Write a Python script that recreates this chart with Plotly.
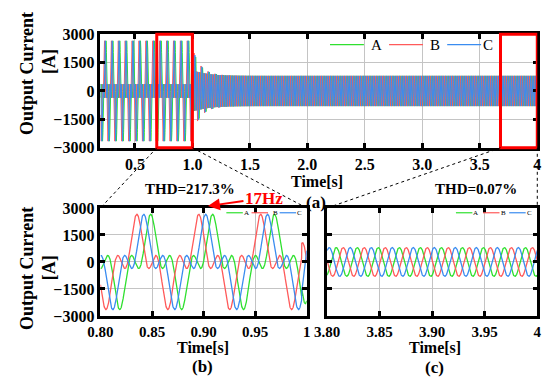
import numpy as np
import plotly.graph_objects as go

# ---------------- values ----------------
phase_names = ["A", "B", "C"]
low_freq_hz = 50.0 / 3.0            # the "17Hz" oscillation before switching
grid_freq_hz = 50.0
low_amp_a = 1600.0                  # 17 Hz part amplitude before switching [A]
grid_amp_before_a = 1050.0          # 50 Hz part amplitude before switching [A]
grid_amp_after_a = 800.0            # steady 50 Hz amplitude after switching [A]
phase_peak_time_s = [0.8487, 0.8353, 0.8420]   # peaks of A, B, C seen in (b)
switch_time_s = 0.995
low_residual_a = 900.0
low_decay_s = 0.06
grid_overshoot_a = 700.0
grid_decay_s = 0.09

time_range_a = [0.2, 4.0]
time_range_b = [0.80, 1.0]
time_range_c = [3.80, 4.0]
box_range_b = [0.69, 1.0]
box_range_c = [3.68, 4.0]
current_range = [-3000, 3000]

x_ticks_a = [0.5, 1.0, 1.5, 2.0, 2.5, 3.0, 3.5, 4.0]
x_tick_text_a = ["0.5", "1.0", "1.5", "2.0", "2.5", "3.0", "3.5", "4"]
x_ticks_b = [0.80, 0.85, 0.90, 0.95, 1.0]
x_tick_text_b = ["0.80", "0.85", "0.90", "0.95", "1"]
x_ticks_c = [3.80, 3.85, 3.90, 3.95, 4.0]
x_tick_text_c = ["3.80", "3.85", "3.90", "3.95", "4"]
y_ticks = [-3000, -1500, 0, 1500, 3000]
y_tick_text = ["\u22123000", "\u22121500", "0", "1500", "3000"]
thd_text = ["THD=217.3%", "THD=0.07%"]
freq_label = "17Hz"
x_title = "Time[s]"
y_title = ["Output Current", "[A]"]
panel_labels = ["(a)", "(b)", "(c)"]

# ---------------- styles ----------------
colors = ["#2fe02f", "#ff5a5a", "#3a8cf0"]
FONT = "Liberation Serif"
PAGE_MARGIN = 8                     # browser default body margin
W, H = 550 - PAGE_MARGIN, 387 - PAGE_MARGIN


def phase_current(t, k):
    s = phase_peak_time_s[k]
    after = t >= switch_time_s
    d = np.clip(t - switch_time_s, 0, None)
    low_env = np.where(after, low_residual_a * np.exp(-d / low_decay_s), low_amp_a)
    grid_env = np.where(after, grid_amp_after_a + grid_overshoot_a * np.exp(-d / grid_decay_s),
                        grid_amp_before_a)
    return (low_env * np.cos(2 * np.pi * low_freq_hz * (t - s))
            + grid_env * np.cos(2 * np.pi * grid_freq_hz * (t - s)))


t_a = np.arange(time_range_a[0], time_range_a[1] + 1e-9, 0.0005)
t_b = np.arange(time_range_b[0], time_range_b[1] + 1e-9, 0.0002)
t_c = np.arange(time_range_c[0], time_range_c[1] + 1e-9, 0.0002)

fig = go.Figure()
for tt, xa, ya, lw in [(t_a, "x", "y", 1.0), (t_b, "x2", "y2", 1.3), (t_c, "x3", "y3", 1.3)]:
    for k, name in enumerate(phase_names):
        fig.add_trace(go.Scatter(x=tt, y=phase_current(tt, k), mode="lines", name=name,
                                 xaxis=xa, yaxis=ya, showlegend=False,
                                 line=dict(color=colors[k], width=lw)))


def px(x):
    return (x - PAGE_MARGIN) / W


def py(y):
    return 1 - (y - PAGE_MARGIN) / H


dom_a_x = [px(90), px(541)]
dom_a_y = [py(146), py(27)]
dom_b_x = [px(90), px(303)]
dom_c_x = [px(324), px(541)]
dom_bc_y = [py(322), py(209)]

axis_common = dict(showline=True, linecolor="black", linewidth=2.5, mirror="ticks",
                   ticks="inside", ticklen=5, tickwidth=2.5, tickcolor="black",
                   showgrid=True, gridcolor="#c4c4c4", gridwidth=1, zeroline=False,
                   tickfont=dict(family=FONT, size=16, color="black", weight="bold"))
small_tick_font = dict(tickfont=dict(family=FONT, size=15, color="black", weight="bold"))
axis_bottom = {**axis_common, **small_tick_font}

fig.update_layout(
    width=W, height=H, margin=dict(l=0, r=0, t=0, b=0),
    paper_bgcolor="white", plot_bgcolor="white",
    font=dict(family=FONT, color="black"),
    xaxis=dict(domain=dom_a_x, anchor="y", range=time_range_a, tickvals=x_ticks_a,
               ticktext=x_tick_text_a, **axis_common),
    yaxis=dict(domain=dom_a_y, anchor="x", range=current_range, tickvals=y_ticks,
               ticktext=y_tick_text, **axis_common),
    xaxis2=dict(domain=dom_b_x, anchor="y2", range=time_range_b, tickvals=x_ticks_b,
                ticktext=x_tick_text_b, **axis_bottom),
    yaxis2=dict(domain=dom_bc_y, anchor="x2", range=current_range, tickvals=y_ticks,
                ticktext=y_tick_text, **axis_common),
    xaxis3=dict(domain=dom_c_x, anchor="y3", range=time_range_c, tickvals=x_ticks_c,
                ticktext=x_tick_text_c, **axis_bottom),
    yaxis3=dict(domain=dom_bc_y, anchor="x3", range=current_range, tickvals=y_ticks,
                showticklabels=False, **axis_common),
)


def xa_paper(x):
    return dom_a_x[0] + (x - time_range_a[0]) / (time_range_a[1] - time_range_a[0]) * (dom_a_x[1] - dom_a_x[0])


shapes = []
# red zoom boxes on (a)
for rng in (box_range_b, box_range_c):
    shapes.append(dict(type="rect", xref="x", yref="y domain", x0=rng[0], x1=rng[1], y0=0, y1=1,
                       line=dict(color="#ff0000", width=3), layer="above"))
# dotted connectors
dot = dict(color="black", width=1, dash="dot")
shapes += [
    dict(type="line", xref="paper", yref="paper", x0=xa_paper(box_range_b[0]), y0=dom_a_y[0],
         x1=dom_b_x[0], y1=dom_bc_y[1], line=dot),
    dict(type="line", xref="paper", yref="paper", x0=xa_paper(box_range_b[1]), y0=dom_a_y[0],
         x1=dom_b_x[1], y1=dom_bc_y[1], line=dot),
    dict(type="line", xref="paper", yref="paper", x0=xa_paper(box_range_c[0]), y0=dom_a_y[0],
         x1=dom_c_x[0], y1=dom_bc_y[1], line=dot),
    dict(type="line", xref="paper", yref="paper", x0=xa_paper(box_range_c[1]), y0=dom_a_y[0],
         x1=dom_c_x[1], y1=dom_bc_y[1], line=dot),
]

annotations = []


def text(x, y, s, size=16, bold=True, color="black", angle=0, xanchor="center"):
    annotations.append(dict(x=px(x), y=py(y), xref="paper", yref="paper", text=s, showarrow=False,
                            xanchor=xanchor, yanchor="middle", textangle=angle,
                            font=dict(family=FONT, size=size, color=color,
                                      weight="bold" if bold else "normal")))


# legends drawn as swatches + labels
legend_specs = [
    # (line starts, line length, label centers, y, font size, line width)
    ([327, 388, 448], 35, [375, 435, 490], 38, 15, 1.2),
    ([220, 246, 275], 17, [241, 271, 296], 214, 7, 1.2),
    ([457, 485, 512], 17, [477, 506, 533], 214, 7, 1.2),
]
for starts, length, labels, yy, fs, lw in legend_specs:
    for k in range(3):
        shapes.append(dict(type="line", xref="paper", yref="paper", x0=px(starts[k]),
                           x1=px(starts[k] + length), y0=py(yy), y1=py(yy),
                           line=dict(color=colors[k], width=lw)))
        text(labels[k], yy, phase_names[k], size=fs, bold=False)

# axis titles
for yc1, yc2 in [(68, 56), (272, 272)]:
    text(14, yc1, y_title[0], size=18, angle=-90)
    text(37, yc2, y_title[1], size=18, angle=-90)
text(314, 181, x_title, size=16)
text(196, 355, x_title, size=16)
text(435, 355, x_title, size=16)
text(313, 203, panel_labels[0], size=17)
text(195, 375, panel_labels[1], size=17)
text(435, 376, panel_labels[2], size=17)
text(182, 189, thd_text[0], size=15)
text(478, 189, thd_text[1], size=15)

# 17Hz arrow
annotations.append(dict(x=px(201), y=py(207), xref="paper", yref="paper", ax=56, ay=-8,
                        text=freq_label, showarrow=True, arrowhead=2, arrowsize=1.2,
                        arrowwidth=2, arrowcolor="#ff0000",
                        font=dict(family=FONT, size=17, color="#ff0000", weight="bold")))

fig.update_layout(shapes=shapes, annotations=annotations)
fig.write_html("out.html")
